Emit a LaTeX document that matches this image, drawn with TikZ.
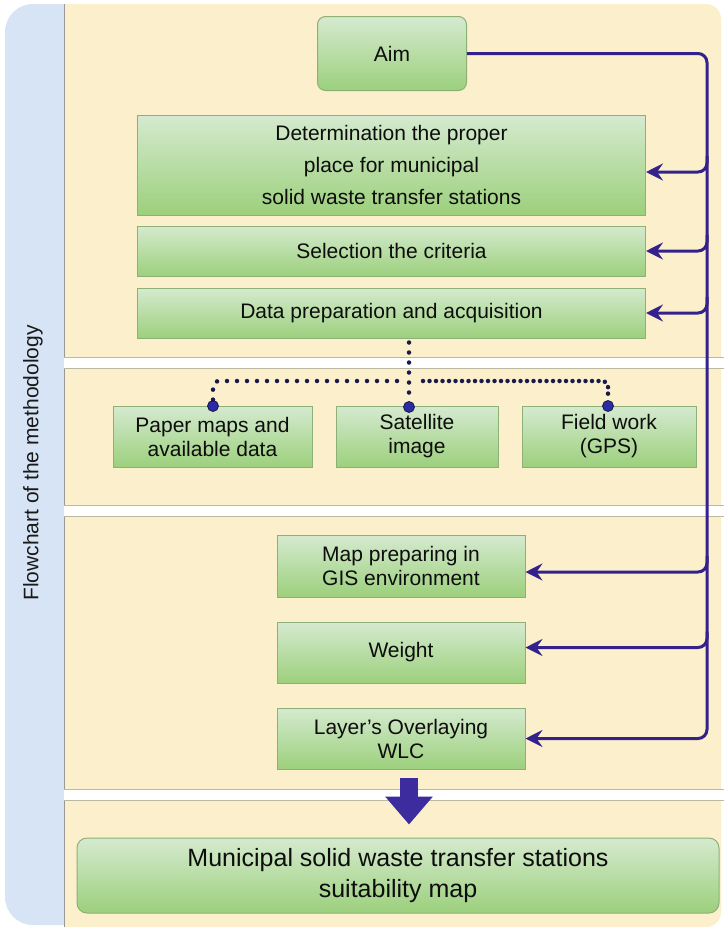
\documentclass[tikz,border=0pt]{standalone}
\usepackage{fontspec}
\setmainfont{Liberation Sans}
\usetikzlibrary{arrows.meta,positioning}

\definecolor{bandblue}{HTML}{D6E4F5}
\definecolor{panelcream}{HTML}{FCEFCC}
\definecolor{boxtop}{HTML}{D5EACF}
\definecolor{boxbottom}{HTML}{9CD07C}
\definecolor{boxline}{HTML}{8EAF78}
\definecolor{flowblue}{HTML}{33218C}
\definecolor{fatblue}{HTML}{3D2C9E}
\definecolor{dotnavy}{HTML}{1A1A48}
\definecolor{dotblue}{HTML}{2B2BA6}
\definecolor{sepgray}{HTML}{BDB8A0}

\begin{document}
\begin{tikzpicture}[x=1pt,y=-1pt,
    stepbox/.style={draw=boxline, line width=1pt, top color=boxtop, bottom color=boxbottom,
        text=black!95, align=center, inner sep=0pt, font=\fontsize{21}{24}\selectfont},
    flow/.style={draw=flowblue, line width=3pt, rounded corners=9pt,
        -{Stealth[length=17pt,width=17pt,inset=6pt]}},
    dotline/.style={draw=dotnavy, line width=4.5pt, line cap=round, dash pattern=on 0pt off 10pt,
        rounded corners=6pt},
    dot/.style={circle, fill=dotblue, draw=dotnavy, line width=0.8pt, inner sep=0pt, minimum size=11pt},
    fatarrow/.style={draw=fatblue, line width=18pt, -{Triangle[length=28pt,width=46pt]}}]
    \useasboundingbox[fill=white] (0,0) rectangle (724,927);
    % background bands
    \fill[bandblue, rounded corners=28pt] (5,4) rectangle (110,925);
    \fill[panelcream, rounded corners=15pt] (64,4) rectangle (721,927);
    \fill[panelcream] (64,4) rectangle (100,927);
    \draw[gray!80, line width=1pt] (64,4) -- (64,927);
    \foreach \y in {357,505,789}{
        \fill[white] (64,\y) rectangle (724,\y+11);
        \draw[sepgray, line width=1pt] (64,\y) -- (724,\y) (64,\y+11) -- (724,\y+11);
    }
    \node[rotate=90, text=black!90, font=\fontsize{21}{24}\selectfont] (title) at (33,463)
        {Flowchart of the methodology};
    % steps
    \node[stepbox, rounded corners=8pt, minimum width=149pt, minimum height=74pt] (aim) at (392,53.5) {Aim};
    \node[stepbox, minimum width=508pt, minimum height=100pt, font=\fontsize{21}{32}\selectfont]
        (determ) at (391.5,165) {Determination the proper\\place for municipal\\solid waste transfer stations};
    \node[stepbox, minimum width=508pt, minimum height=50pt] (select) at (391.5,251) {Selection the criteria};
    \node[stepbox, minimum width=508pt, minimum height=50pt] (dataprep) at (391.5,313) {Data preparation and acquisition};
    \node[stepbox, minimum width=199pt, minimum height=61pt] (paper) at (212.5,436.5) {Paper maps and\\available data};
    \node[stepbox, minimum width=162pt, minimum height=61pt] (satellite) at (417,436.5) {Satellite\\image};
    \node[stepbox, minimum width=174pt, minimum height=61pt] (field) at (609,436.5) {Field work\\(GPS)};
    \node[stepbox, minimum width=248pt, minimum height=62pt] (mapgis) at (401,566) {Map preparing in\\GIS environment};
    \node[stepbox, minimum width=248pt, minimum height=61pt] (weight) at (401,652.5) {Weight};
    \node[stepbox, minimum width=248pt, minimum height=61pt] (layer) at (401,738.5) {Layer's Overlaying\\WLC};
    \node[stepbox, rounded corners=10pt, minimum width=642pt, minimum height=75pt,
        font=\fontsize{25}{31}\selectfont] (final) at (398,875.5)
        {Municipal solid waste transfer stations\\suitability map};
    % data sources
    \coordinate (split) at (409,381);
    \node[dot] (dpaper) at (213,406) {};
    \node[dot] (dsat) at (409,407) {};
    \node[dot] (dfield) at (608,406) {};
    \draw[dotline] (dsat |- dataprep.south) ++(0,4) -- (dsat.north);
    \draw[dotline] ([xshift=-12pt]split) -| (dpaper.north);
    \draw[dotline, dash pattern=on 0pt off 6.5pt] ([xshift=14pt]split) -| (dfield.north);
    % feedback arrows
    \coordinate (bus) at (707,0);
    \draw[flow] (aim.east) -| (bus |- layer.east) -- (layer.east);
    \foreach \b/\d in {determ/-7, select/0, dataprep/0, mapgis/-6, weight/5}{
        \draw[flow] ([yshift=\d pt]bus |- \b.east) ++(0,-16) -- ++(0,16) -- ([yshift=\d pt]\b.east);
    }
    \draw[fatarrow] ([xshift=8pt,yshift=-8pt]layer.south) -- ([xshift=11pt,yshift=13pt]final.north);
\end{tikzpicture}
\end{document}
